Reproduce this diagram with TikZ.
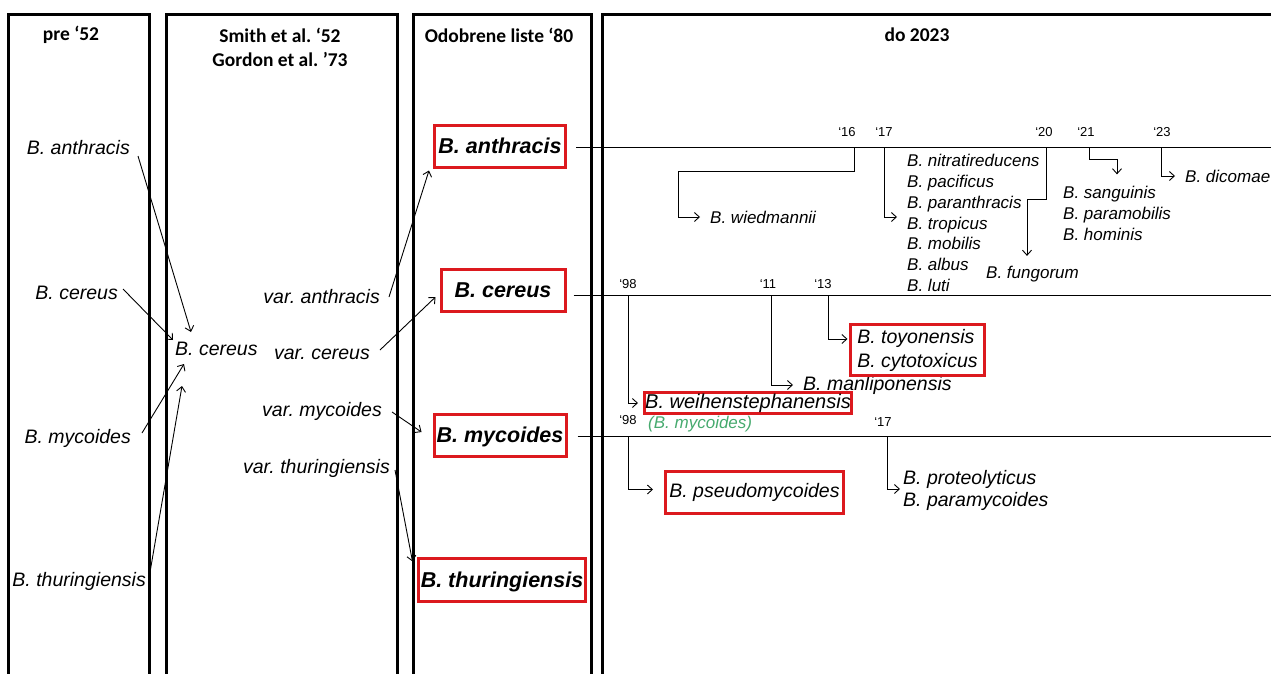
\documentclass[tikz,border=0pt]{standalone}
\usepackage{fontspec}
\setmainfont{Liberation Sans}
\newfontfamily\hdfont{Carlito}
\usetikzlibrary{arrows.meta,calc}
\definecolor{boxred}{RGB}{220,25,30}
\definecolor{mygreen}{RGB}{70,170,110}
\frenchspacing
\begin{document}
\frenchspacing
\begin{tikzpicture}[x=1pt,y=-1pt,
  colframe/.style={line width=3pt},
  hd/.style={font=\hdfont\bfseries\fontsize{19.5}{24}\selectfont,inner sep=0pt},
  sp/.style={font=\itshape\fontsize{19.5}{23}\selectfont,inner sep=0pt,text height=14pt,text depth=0pt},
  spl/.style={font=\itshape\fontsize{19.5}{22}\selectfont,inner sep=0pt,align=left},
  sps/.style={font=\itshape\fontsize{17}{20.7}\selectfont,inner sep=0pt,align=left},
  bigbox/.style={draw=boxred,line width=3pt,inner sep=0pt,minimum height=42pt,
     font=\bfseries\itshape\fontsize{21.5}{26}\selectfont,text height=15.5pt,text depth=0pt},
  smallbox/.style={draw=boxred,line width=3pt,inner sep=0pt,align=left,
     font=\itshape\fontsize{19.5}{24}\selectfont},
  yr/.style={font=\fontsize{13}{15}\selectfont,inner sep=0pt},
  ln/.style={line width=0.9pt},
  arr/.style={line width=0.9pt,-{Straight Barb[length=5pt,width=9pt]}},
]
\useasboundingbox (0,0) rectangle (1271,673);
\clip (0,0) rectangle (1271,673);
% column frames
\draw[colframe] (8,690) -- (8,14) -- (149,14) -- (149,690);
\draw[colframe] (166,690) -- (166,14) -- (397,14) -- (397,690);
\draw[colframe] (413,690) -- (413,14) -- (591,14) -- (591,690);
\draw[colframe] (602,690) -- (602,14) -- (1290,14);
% headers
\node[hd] (h1) at (71,35) {pre ‘52};
\node[hd,align=center] (h2) at (280,47) {Smith et al. ‘52\\Gordon et al. ’73};
\node[hd] (h3) at (499,35) {Odobrene liste ‘80};
\node[hd] (h4) at (917,35) {do 2023};
% column 1
\node[sp,anchor=east] (ant1) at (130,147) {B. anthracis};
\node[sp,anchor=east] (cer1) at (118,292) {B. cereus};
\node[sp,anchor=east] (myc1) at (131,436) {B. mycoides};
\node[sp,anchor=east] (thu1) at (146,579) {B. thuringiensis};
% column 2
\node[sp,anchor=west] (cer2) at (175,348) {B. cereus};
\node[sp,anchor=east] (vant) at (380,296) {var. anthracis};
\node[sp,anchor=east] (vcer) at (370,352) {var. cereus};
\node[sp,anchor=east] (vmyc) at (382,409) {var. mycoides};
\node[sp,anchor=east] (vthu) at (390,466) {var. thuringiensis};
% column 3
\node[bigbox,minimum width=131pt] (bant) at (500,146) {B. anthracis};
\node[bigbox,minimum width=124pt] (bcer) at (503,290) {B. cereus};
\node[bigbox,minimum width=132pt] (bmyc) at (500,435) {B. mycoides};
\node[bigbox,minimum width=167pt,minimum height=43pt] (bthu) at (502,580) {B. thuringiensis};
% arrows col1 -> col2
\draw[arr] ($(ant1.east)+(8,9)$) -- ($(cer2.west)+(16,-16)$);
\draw[arr] ($(cer1.east)+(5,-3)$) -- ($(cer2.west)+(-2,-8)$);
\draw[arr] ($(myc1.east)+(11,-3)$) -- ($(cer2.west)+(9,16)$);
\draw[arr] ($(thu1.east)+(3,-1)$) -- ($(cer2.west)+(7,38)$);
% arrows col2 -> col3
\draw[arr] ($(vant.east)+(9,1)$) -- ($(bant.south west)+(-4,2)$);
\draw[arr] ($(vcer.east)+(10,-2)$) -- ($(bcer.west)+(-4,7)$);
\draw[arr] ($(vmyc.east)+(10,3)$) -- ($(bmyc.west)+(-11,-3)$);
\draw[arr] ($(vthu.east)+(5,4)$) -- ($(bthu.north west)+(-4.5,4.5)$);
% timelines
\coordinate (eA) at (1290,147);
\coordinate (eB) at (1290,295);
\coordinate (eC) at (1290,436);
\draw[ln] ($(bant.east)+(9,1)$) -- (eA);
\draw[ln] ($(bcer.east)+(7,5)$) -- (eB);
\draw[ln] ($(bmyc.east)+(10,1)$) -- (eC);
% tick points
\coordinate (t16) at (854,147);
\coordinate (t17) at (884,147);
\coordinate (t20) at (1046,147);
\coordinate (t21) at (1089,147);
\coordinate (t23) at (1161,147);
\coordinate (t98a) at (628,295);
\coordinate (t11) at (771,295);
\coordinate (t13) at (828,295);
\coordinate (t98b) at (628,436);
\coordinate (t17b) at (887,436);
% year labels
\node[yr] (y16) at (847,132) {‘16};
\node[yr] (y17) at (884,132) {‘17};
\node[yr] (y20) at (1044,132) {‘20};
\node[yr] (y21) at (1086,132) {‘21};
\node[yr] (y23) at (1162,132) {‘23};
\node[yr] (y98a) at (628,284) {‘98};
\node[yr] (y11) at (768,284) {‘11};
\node[yr] (y13) at (823,284) {‘13};
\node[yr] (y98b) at (628,420) {‘98};
\node[yr] (y17b) at (883,422) {‘17};
% anthracis branch
\node[sps,anchor=west] (wied) at (710,217) {B. wiedmannii};
\node[sps,anchor=west] (l17) at (907,223) {B. nitratireducens\\B. pacificus\\B. paranthracis\\B. tropicus\\B. mobilis\\B. albus\\B. luti};
\node[sps,anchor=west] (fung) at (986,274) {B. fungorum};
\node[sps,anchor=west] (sang) at (1063,213.5) {B. sanguinis\\B. paramobilis\\B. hominis};
\node[sps,anchor=west] (dic) at (1185,176) {B. dicomae};
\draw[arr] (t16) -- ++(0,24) -| ($(wied.west)+(-32,0)$) -- ($(wied.west)+(-10,0)$);
\draw[arr] (t17) |- ($(l17.west)+(-10,-6)$);
\draw[arr] (t20) -- ++(0,52) -| ($(fung.north west)+(41,-10)$);
\draw[arr] (t21) -- ++(0,12) -| ($(sang.north west)+(54,-12)$);
\draw[arr] (t23) |- ($(dic.west)+(-10,0)$);
% cereus branch
\node[smallbox,minimum width=207pt,minimum height=21pt,font=\itshape\fontsize{20}{24}\selectfont] (weih) at (748,403) {B. weihenstephanensis};
\node[font=\itshape\fontsize{17}{20}\selectfont,text=mygreen,inner sep=0pt,anchor=west] (mycg) at (648,424) {(B. mycoides)};
\node[spl,anchor=west] (manl) at (803,385) {B. manliponensis};
\node[smallbox,minimum width=134pt,minimum height=51pt] (toyo) at (917.5,350) {B. toyonensis\\B. cytotoxicus};
\draw[arr] (t98a) |- ($(weih.west)+(-5,0)$);
\draw[arr] (t11) |- ($(manl.west)+(-10,0)$);
\draw[arr] (t13) |- ($(toyo.west)+(-1.5,-11)$);
% mycoides branch
\node[smallbox,minimum width=178pt,minimum height=42pt] (pseu) at (754.5,492.5) {B. pseudomycoides};
\node[spl,anchor=west] (prot) at (903,490) {B. proteolyticus\\B. paramycoides};
\draw[arr] (t98b) |- ($(pseu.west)+(-11,-3)$);
\draw[arr] (t17b) |- ($(prot.west)+(-3,-1)$);
\end{tikzpicture}
\end{document}
